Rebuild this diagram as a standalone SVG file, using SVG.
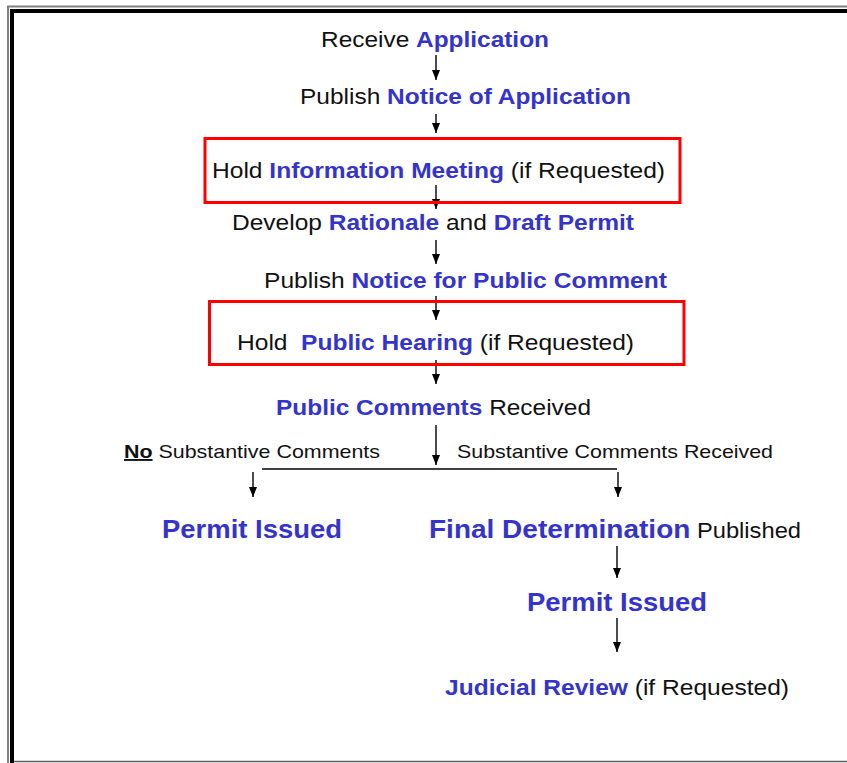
<svg xmlns="http://www.w3.org/2000/svg" width="847" height="763" viewBox="0 0 847 763">
<style>
text{font-family:"Liberation Sans",Arial,sans-serif;font-size:22px;fill:#111;white-space:pre}
.b{font-weight:bold;fill:#3434CC}
.big{font-size:26px}
.sm{font-size:19px}
.box{fill:none;stroke:#FF0000;stroke-width:3}
.c{stroke:#000;stroke-width:1.4;fill:none}
.a{marker-end:url(#ah)}
</style>
<defs>
<marker id="ah" viewBox="0 0 10 8" refX="10" refY="4" markerWidth="10" markerHeight="8" markerUnits="userSpaceOnUse" orient="auto">
<path d="M0,0 L10,4 L0,8 Z" fill="#000"/>
</marker>
</defs>
<rect width="847" height="763" fill="#fff"/>
<g id="frame">
<path d="M8,763 V6.5 H847" fill="none" stroke="#808080" stroke-width="2"/>
<path d="M12,763 V11 H847" fill="none" stroke="#000" stroke-width="4"/>
<path d="M14,761.5 H847" fill="none" stroke="#606060" stroke-width="1.5"/>
</g>
<g id="connectors">
<line class="c a" x1="436" y1="55" x2="436" y2="80"/>
<line class="c a" x1="436" y1="114" x2="436" y2="133"/>
<line class="c a" x1="436" y1="185" x2="436" y2="209"/>
<line class="c a" x1="436" y1="240" x2="436" y2="264"/>
<line class="c a" x1="436" y1="296" x2="436" y2="320"/>
<line class="c a" x1="436" y1="360" x2="436" y2="384"/>
<line class="c a" x1="436" y1="425" x2="436" y2="465"/>
<line class="c" x1="262" y1="469" x2="617" y2="469"/>
<line class="c a" x1="253" y1="472" x2="253" y2="497"/>
<line class="c a" x1="618" y1="472" x2="618" y2="497"/>
<line class="c a" x1="617" y1="546" x2="617" y2="578"/>
<line class="c a" x1="617" y1="618" x2="617" y2="652"/>
</g>
<g id="n1"><text x="321" y="47" textLength="228" lengthAdjust="spacingAndGlyphs">Receive <tspan class="b">Application</tspan></text></g>
<g id="n2"><text x="300" y="104" textLength="331" lengthAdjust="spacingAndGlyphs">Publish <tspan class="b">Notice of Application</tspan></text></g>
<g id="n3"><rect class="box" x="205" y="138.5" width="475" height="64"/><text x="212" y="178" textLength="453" lengthAdjust="spacingAndGlyphs">Hold <tspan class="b">Information Meeting</tspan> (if Requested)</text></g>
<g id="n4"><text x="232" y="230" textLength="402" lengthAdjust="spacingAndGlyphs">Develop <tspan class="b">Rationale</tspan> and <tspan class="b">Draft Permit</tspan></text></g>
<g id="n5"><text x="264" y="288" textLength="403" lengthAdjust="spacingAndGlyphs">Publish <tspan class="b">Notice for Public Comment</tspan></text></g>
<g id="n6"><rect class="box" x="209.5" y="301.5" width="474.5" height="63"/><text x="237" y="350" textLength="397" lengthAdjust="spacingAndGlyphs">Hold  <tspan class="b">Public Hearing</tspan> (if Requested)</text></g>
<g id="n7"><text x="276" y="415" textLength="315" lengthAdjust="spacingAndGlyphs"><tspan class="b">Public Comments</tspan> Received</text></g>
<g id="l1"><text class="sm" x="124" y="458" textLength="256" lengthAdjust="spacingAndGlyphs"><tspan font-weight="bold" text-decoration="underline">No</tspan> Substantive Comments</text></g>
<g id="l2"><text class="sm" x="457" y="458" textLength="316" lengthAdjust="spacingAndGlyphs">Substantive Comments Received</text></g>
<g id="n8"><text class="b big" x="162" y="538" textLength="180" lengthAdjust="spacingAndGlyphs">Permit Issued</text></g>
<g id="n9"><text x="429" y="538" textLength="372" lengthAdjust="spacingAndGlyphs"><tspan class="b big">Final Determination</tspan> Published</text></g>
<g id="n10"><text class="b big" x="527" y="611" textLength="180" lengthAdjust="spacingAndGlyphs">Permit Issued</text></g>
<g id="n11"><text x="445" y="695" textLength="344" lengthAdjust="spacingAndGlyphs"><tspan class="b">Judicial Review</tspan> (if Requested)</text></g>
</svg>
